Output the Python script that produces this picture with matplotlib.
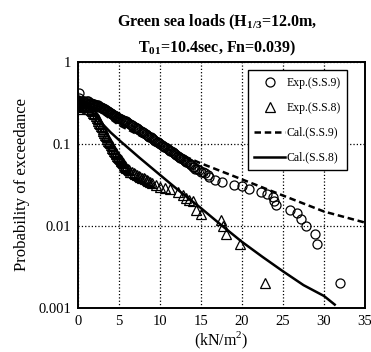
import matplotlib
matplotlib.use("Agg")
import matplotlib.pyplot as plt
import numpy as np

plt.rcParams['font.family'] = ['Liberation Serif', 'DejaVu Serif']
plt.rcParams['mathtext.fontset'] = 'custom'
plt.rcParams['mathtext.rm'] = 'Liberation Serif'
plt.rcParams['mathtext.bf'] = 'Liberation Serif:bold'

# Exp. (S.S.9) - circles (dense sorted peaks)
ss9_x = [0.05, 0.1, 0.1, 0.15, 0.2, 0.3, 0.4, 0.5, 0.65, 0.8, 0.9, 1.0, 1.1, 1.2, 1.3,
         1.4, 1.5, 1.6, 1.7, 1.8, 1.9, 2.0, 2.1, 2.2, 2.3, 2.4, 2.5, 2.6, 2.7, 2.8,
         2.9, 3.0, 3.1, 3.2, 3.3, 3.4, 3.5, 3.6, 3.7, 3.8, 3.9, 4.0, 4.1, 4.2, 4.3,
         4.4, 4.5, 4.6, 4.7, 4.8, 4.9, 5.0, 5.1, 5.2, 5.35, 5.5, 5.65, 5.8, 5.9, 6.0,
         6.15, 6.3, 6.45, 6.6, 6.75, 6.9, 7.05, 7.2, 7.35, 7.5, 7.65, 7.8, 7.95, 8.1,
         8.25, 8.4, 8.55, 8.7, 8.85, 9.0, 9.15, 9.3, 9.45, 9.6, 9.75, 9.9, 10.05, 10.2,
         10.35, 10.5, 10.65, 10.8, 10.95, 11.1, 11.25, 11.4, 11.55, 11.7, 11.85, 12.0,
         12.15, 12.3, 12.45, 12.6, 12.75, 12.9, 13.05, 13.2, 13.35, 13.5, 13.65, 13.8,
         14.0, 14.1, 14.3, 14.5, 14.7, 15.0, 15.2, 15.5, 15.8, 16.0, 16.7, 17.6, 19.0,
         20.0, 20.8, 22.3, 23.1, 23.8, 23.9, 24.1, 25.9, 26.7, 27.2, 27.8, 28.9, 29.2,
         32.0]
ss9_y = [0.34, 0.42, 0.36, 0.31, 0.33, 0.30, 0.31, 0.32, 0.33, 0.33, 0.32, 0.32, 0.33,
         0.33, 0.32, 0.31, 0.32, 0.32, 0.31, 0.30, 0.31, 0.31, 0.30, 0.29, 0.295, 0.30,
         0.29, 0.28, 0.285, 0.285, 0.275, 0.27, 0.275, 0.27, 0.265, 0.26, 0.255, 0.25,
         0.25, 0.245, 0.24, 0.24, 0.235, 0.23, 0.228, 0.225, 0.222, 0.22, 0.215, 0.21,
         0.208, 0.205, 0.202, 0.20, 0.198, 0.195, 0.192, 0.19, 0.188, 0.185, 0.18, 0.175,
         0.172, 0.17, 0.165, 0.16, 0.158, 0.155, 0.152, 0.15, 0.145, 0.14, 0.138, 0.135,
         0.131, 0.128, 0.125, 0.122, 0.12, 0.117, 0.114, 0.112, 0.11, 0.107, 0.105,
         0.102, 0.099, 0.097, 0.095, 0.093, 0.091, 0.089, 0.087, 0.085, 0.083, 0.081,
         0.079, 0.077, 0.075, 0.074, 0.072, 0.070, 0.068, 0.067, 0.065, 0.064, 0.062,
         0.061, 0.06, 0.058, 0.057, 0.055, 0.053, 0.052, 0.05, 0.049, 0.048, 0.046,
         0.045, 0.044, 0.042, 0.040, 0.036, 0.034, 0.032, 0.031, 0.028, 0.026, 0.0245,
         0.0225, 0.020, 0.018, 0.0158, 0.0143, 0.0121, 0.0101, 0.0080, 0.0060, 0.0020]

# Exp. (S.S.8) - triangles
ss8_x = [0.0, 0.05, 0.1, 0.2, 0.35, 0.5, 0.65, 0.8, 0.95, 1.1, 1.25, 1.4, 1.55, 1.7,
         1.85, 2.0, 2.15, 2.3, 2.4, 2.5, 2.6, 2.7, 2.8, 2.9, 3.0, 3.1, 3.2, 3.3, 3.4,
         3.5, 3.6, 3.7, 3.8, 3.9, 4.0, 4.1, 4.2, 4.3, 4.4, 4.5, 4.6, 4.7, 4.8, 4.9,
         5.0, 5.1, 5.2, 5.3, 5.4, 5.5, 5.6, 5.7, 5.8, 5.9, 6.05, 6.2, 6.4, 6.6, 6.8,
         7.0, 7.2, 7.4, 7.6, 7.8, 8.0, 8.2, 8.4, 8.6, 8.8, 9.0, 9.5, 10.0, 10.6, 11.2,
         12.2, 12.8, 13.2, 13.6, 14.0, 14.4, 15.0, 17.4, 17.7, 18.1, 19.8, 22.8]
ss8_y = [0.30, 0.27, 0.33, 0.285, 0.29, 0.29, 0.30, 0.29, 0.285, 0.28, 0.27, 0.265,
         0.26, 0.25, 0.24, 0.23, 0.22, 0.21, 0.20, 0.19, 0.182, 0.175, 0.167, 0.16,
         0.152, 0.145, 0.137, 0.13, 0.125, 0.12, 0.115, 0.11, 0.106, 0.102, 0.098,
         0.094, 0.09, 0.087, 0.083, 0.080, 0.077, 0.075, 0.072, 0.070, 0.068, 0.066,
         0.064, 0.062, 0.060, 0.058, 0.056, 0.054, 0.052, 0.051, 0.049, 0.048, 0.046,
         0.045, 0.044, 0.043, 0.042, 0.041, 0.040, 0.039, 0.038, 0.037, 0.036, 0.035,
         0.034, 0.033, 0.0315, 0.030, 0.029, 0.028, 0.026, 0.024, 0.022, 0.021, 0.020,
         0.0157, 0.0141, 0.0117, 0.0100, 0.0079, 0.0060, 0.0020]

# Cal. (S.S.9) - dashed
cal9_x = [0, 2, 5, 10, 15, 20, 25, 30, 35]
cal9_y = [0.38, 0.28, 0.17, 0.095, 0.058, 0.037, 0.0235, 0.015, 0.011]

# Cal. (S.S.8) - solid
cal8_x = [0, 1, 2, 3, 4, 5, 7.5, 10, 12.5, 15, 17.5, 20, 22.5, 25, 27.5, 30, 31.3]
cal8_y = [0.34, 0.29, 0.23, 0.175, 0.138, 0.112, 0.068, 0.042, 0.026, 0.0165, 0.0102,
          0.0064, 0.0042, 0.0028, 0.0019, 0.0014, 0.0011]

fig = plt.figure(figsize=(3.71, 3.52), dpi=100)
ax = fig.add_axes([0.210, 0.125, 0.774, 0.699])

ax.plot(ss9_x, ss9_y, 'o', mfc='none', mec='black', ms=6.5, mew=0.9, label='Exp.(S.S.9)')
ax.plot(ss8_x, ss8_y, '^', mfc='none', mec='black', ms=6.5, mew=0.9, label='Exp.(S.S.8)')
ax.plot(cal9_x, cal9_y, color='black', lw=1.8, ls=(0, (2.6, 1.5)), label='Cal.(S.S.9)')
ax.plot(cal8_x, cal8_y, color='black', lw=1.8, label='Cal.(S.S.8)')

ax.set_yscale('log')
ax.set_xlim(0, 35)
ax.set_ylim(0.001, 1)
ax.set_xticks([0, 5, 10, 15, 20, 25, 30, 35])
ax.set_yticks([0.001, 0.01, 0.1, 1])
ax.set_yticklabels(['0.001', '0.01', '0.1', '1'])
ax.minorticks_off()
ax.tick_params(direction='in', labelsize=10.5, length=0, pad=5)
ax.grid(True, color='black', ls=':', lw=0.9)
for s in ax.spines.values():
    s.set_linewidth(1.4)

ax.set_ylabel('Probability of exceedance', fontsize=12, labelpad=6)
ax.set_xlabel('(kN/m$^2$)', fontsize=11.5, labelpad=1)

fig.text(0.585, 0.935, r'Green sea loads (H$_{\mathbf{1/3}}$=12.0m,', ha='center',
         va='center', fontsize=11.5, fontweight='bold')
fig.text(0.585, 0.862, r'T$_{\mathbf{01}}$=10.4sec, Fn=0.039)', ha='center',
         va='center', fontsize=11.5, fontweight='bold')

leg = ax.legend(loc='upper right', fontsize=8.5, frameon=True, fancybox=False,
                edgecolor='black', framealpha=1, handlelength=2.6, labelspacing=1.1,
                borderpad=0.55, handletextpad=0.1, bbox_to_anchor=(0.958, 0.99))
leg.get_frame().set_linewidth(1.0)

fig.savefig('out.png', dpi=100)
